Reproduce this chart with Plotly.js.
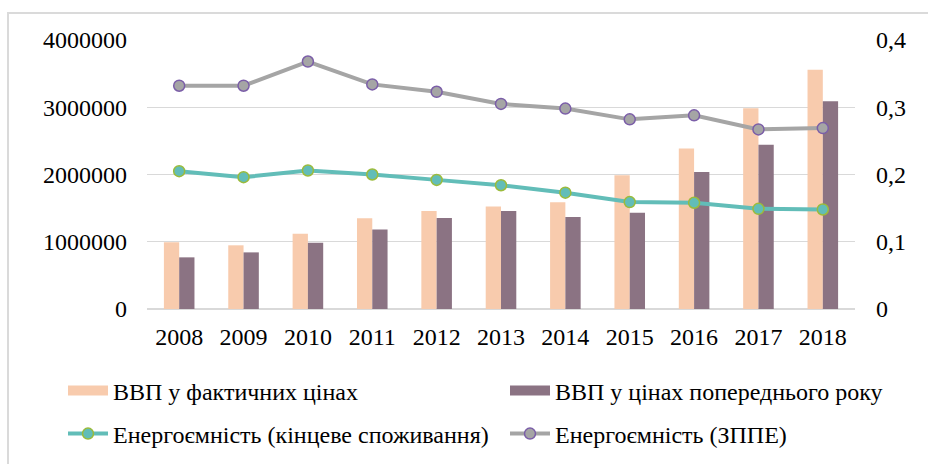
<!DOCTYPE html>
<html>
<head>
<meta charset="utf-8">
<script src="https://cdn.plot.ly/plotly-3.0.1.min.js"></script>
<style>
html,body{margin:0;padding:0;background:#fff;}
#wrap{position:relative;width:928px;height:464px;overflow:hidden;}
#chart{position:absolute;left:0;top:0;width:928px;height:464px;}
#frame{position:absolute;left:7px;top:12px;width:1000px;height:1000px;border:2px solid #dadada;pointer-events:none;}
</style>
</head>
<body>
<div id="wrap"><div id="chart"></div><div id="frame"></div></div>
<script>
var years = ['2008','2009','2010','2011','2012','2013','2014','2015','2016','2017','2018'];
var gdpCurrent = [990819, 947049, 1120585, 1349178, 1459096, 1522657, 1586915, 1988544, 2385367, 2983882, 3558706];
var gdpPrevYear = [768000, 842000, 985000, 1184000, 1352000, 1456000, 1367000, 1431000, 2036000, 2442000, 3091000];
var energyFinal = [0.205, 0.196, 0.206, 0.200, 0.192, 0.184, 0.173, 0.159, 0.158, 0.149, 0.148];
var energyTPES = [0.332, 0.332, 0.368, 0.334, 0.323, 0.305, 0.298, 0.282, 0.288, 0.267, 0.269];
var names = ['ВВП у фактичних цінах', 'ВВП у цінах попереднього року', 'Енергоємність (кінцеве споживання)', 'Енергоємність (ЗППЕ)'];

var cPeach = '#f8cbad', cMauve = '#8b7383', cTeal = '#62bdb8', cGreen = '#9bbb3b', cGray = '#a5a5a5', cPurple = '#7b5ea8';
var FONT = 'Liberation Serif';
var FS = 24;

var data = [
  {type:'bar', x:years, y:gdpCurrent, marker:{color:cPeach}, showlegend:false, name:names[0]},
  {type:'bar', x:years, y:gdpPrevYear, marker:{color:cMauve}, showlegend:false, name:names[1]},
  {type:'scatter', mode:'lines+markers', x:years, y:energyFinal, yaxis:'y2', name:names[2],
   line:{color:cTeal, width:4}, marker:{size:11, color:cTeal, line:{color:cGreen, width:1.5}}, legend:'legend3'},
  {type:'scatter', mode:'lines+markers', x:years, y:energyTPES, yaxis:'y2', name:names[3],
   line:{color:cGray, width:4}, marker:{size:11, color:cGray, line:{color:cPurple, width:1.5}}, legend:'legend4'},
  {type:'scatter', mode:'lines', x:[years[0]], y:[null], name:names[0], line:{color:cPeach, width:12}, legend:'legend', hoverinfo:'skip'},
  {type:'scatter', mode:'lines', x:[years[0]], y:[null], name:names[1], line:{color:cMauve, width:12}, legend:'legend2', hoverinfo:'skip'}
];

function px2x(p){ return (p - 147) / 708; }
function py2y(p){ return (309 - p) / 269; }
function leg(xpx, ypx){
  return {x:px2x(xpx), y:py2y(ypx), xanchor:'left', yanchor:'middle', orientation:'h', itemwidth:40,
          bgcolor:'rgba(0,0,0,0)', font:{family:FONT, size:FS, color:'#000'}};
}

var layout = {
  width:928, height:464,
  margin:{l:147, r:73, t:40, b:155, autoexpand:false},
  paper_bgcolor:'#fff', plot_bgcolor:'#fff',
  font:{family:FONT, size:FS, color:'#000'},
  separators:', ',
  barmode:'group', bargap:0.525, bargroupgap:0,
  xaxis:{type:'category', range:[-0.5, 10.5], showgrid:false, showline:false, zeroline:false, ticks:'', automargin:false,
         tickfont:{family:FONT, size:FS, color:'#000'}, ticklabelstandoff:11},
  yaxis:{range:[0,4000000], dtick:1000000, tickformat:'d', showgrid:true, gridcolor:'#d9d9d9', gridwidth:1.3, automargin:false,
         zeroline:true, zerolinecolor:'#d9d9d9', zerolinewidth:1.3, showline:false, ticks:'',
         tickfont:{family:FONT, size:FS, color:'#000'}, ticklabelstandoff:19},
  yaxis2:{range:[0,0.4], dtick:0.1, overlaying:'y', side:'right', showgrid:false, zeroline:false, showline:false, ticks:'', automargin:false,
          tickfont:{family:FONT, size:FS, color:'#000'}, ticklabelstandoff:20},
  legend: leg(63, 391),
  legend2: leg(505, 391),
  legend3: leg(63, 434),
  legend4: leg(505, 434),
  showlegend:true
};

Plotly.newPlot('chart', data, layout, {displayModeBar:false, staticPlot:true});
</script>
</body>
</html>
